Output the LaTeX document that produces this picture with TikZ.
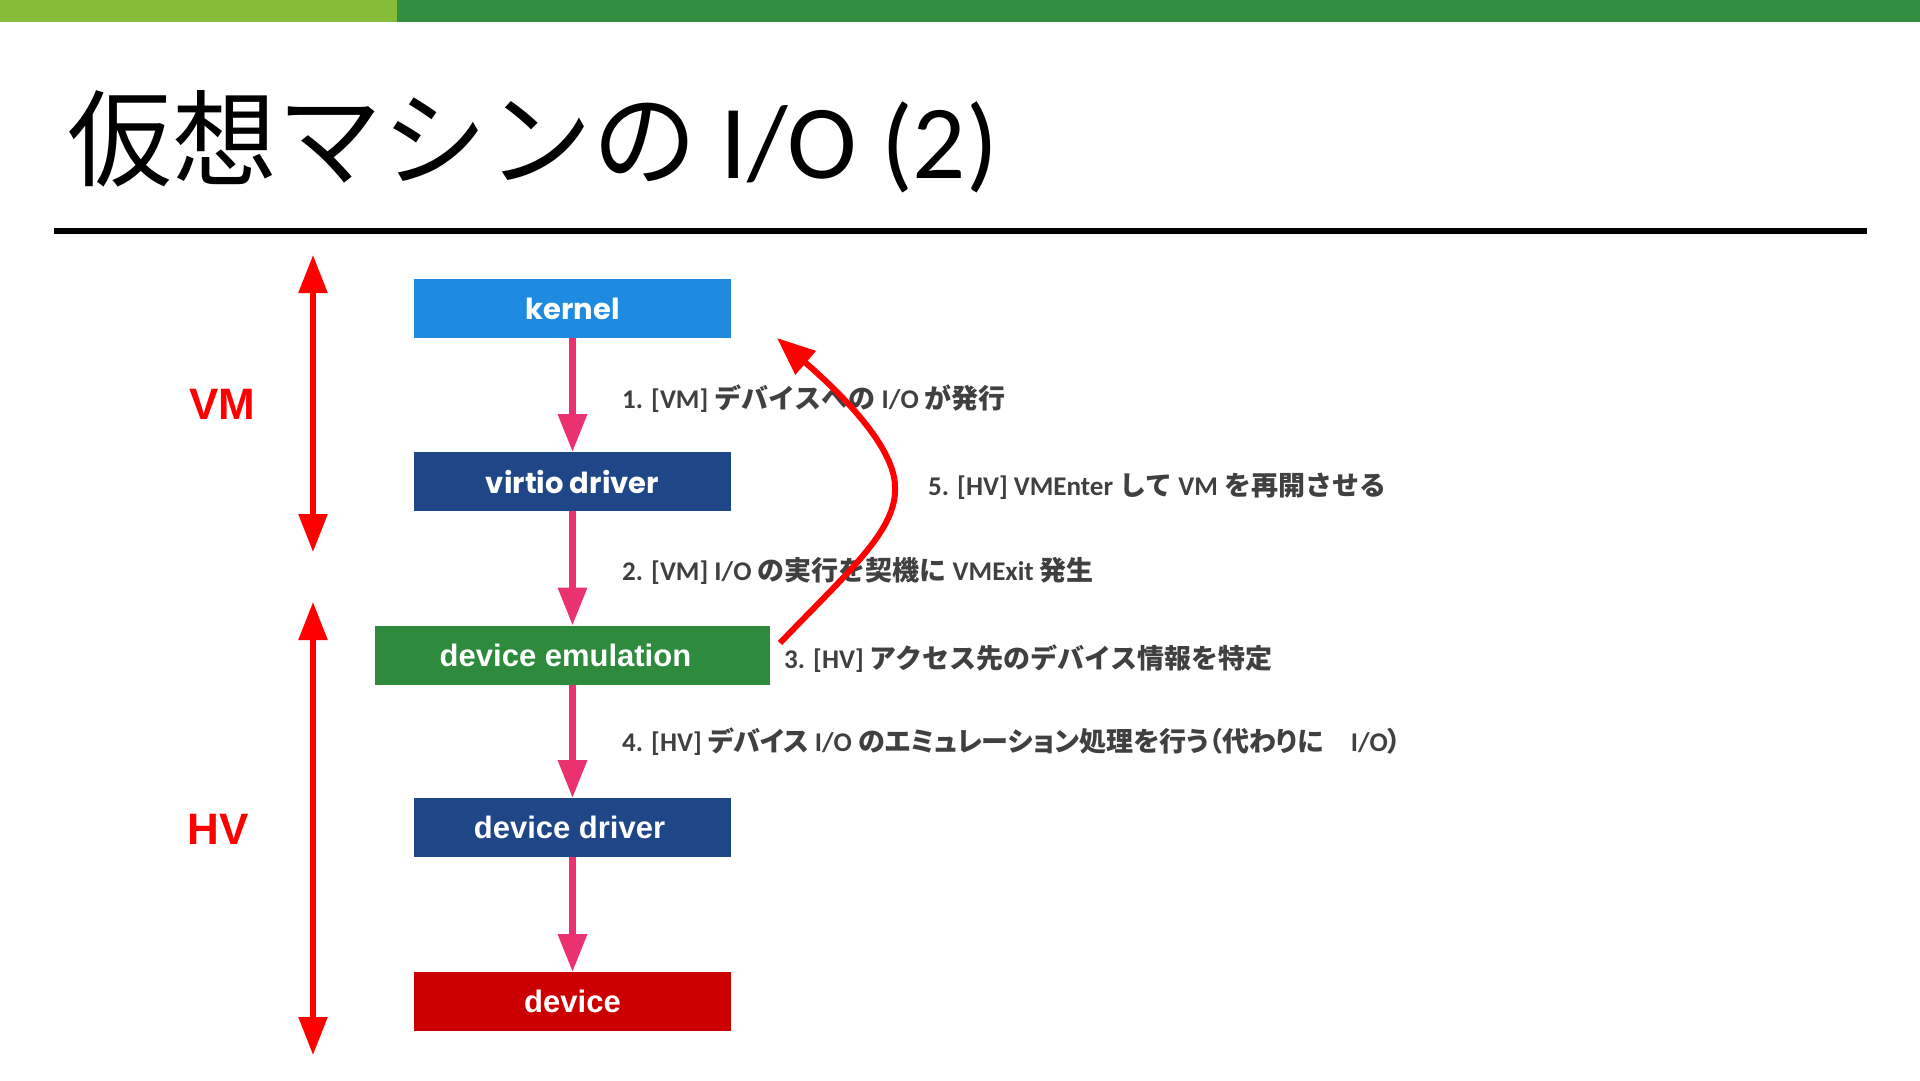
\documentclass[tikz,border=0pt]{standalone}
\usepackage{fontspec}
\usetikzlibrary{arrows.meta}
\newfontfamily\jp{Noto Sans CJK JP}
\newfontfamily\jpp{Noto Sans CJK JP}[RawFeature=+palt]
\newfontfamily\carl{Carlito}
\newfontfamily\lib{Liberation Sans}
\newfontfamily\pop{Poppins}
\definecolor{lgreen}{RGB}{134,188,55}
\definecolor{dgreen}{RGB}{50,142,64}
\definecolor{kblue}{RGB}{30,139,224}
\definecolor{nblue}{RGB}{31,71,136}
\definecolor{egreen}{RGB}{46,139,62}
\definecolor{dred}{RGB}{204,0,0}
\definecolor{pinkc}{RGB}{234,51,110}
\definecolor{redc}{RGB}{255,0,0}
\definecolor{grayc}{RGB}{64,64,64}
\newcommand\Lx[1]{{\carl\bfseries #1}}
\newcommand\Jx[1]{{\jp\bfseries #1}}
\newcommand\Jp[1]{{\jpp\bfseries #1}}
\begin{document}
\begin{tikzpicture}[x=1pt,y=-1pt,
  box/.style={rectangle, minimum width=317pt, minimum height=59pt, inner sep=0pt, outer sep=0pt, text=white},
  popfont/.style={font=\pop\bfseries\fontsize{29}{34}\selectfont},
  arifont/.style={font=\lib\bfseries\fontsize{31}{36}\selectfont},
  flow/.style={draw=pinkc, line width=6.5pt, -{Triangle[length=38pt,width=28pt]}},
  span/.style={draw=redc, line width=5.5pt, {Triangle[length=38pt,width=28pt]}-{Triangle[length=38pt,width=28pt]}},
  lbl/.style={anchor=west, inner sep=0pt, text=grayc, font=\fontsize{27}{31}\selectfont},
  side/.style={text=redc, inner sep=0pt, font=\lib\bfseries\fontsize{44}{50}\selectfont}]
\path[use as bounding box, fill=white] (0,0) rectangle (1920,1081);
% top bar
\fill[lgreen] (0,0) rectangle (397,22);
\fill[dgreen] (397,0) rectangle (1920,22);
% title
\node[anchor=base west, inner sep=0pt, font=\fontsize{105}{120}\selectfont] (title) at (67,178) {{\jp 仮想マシンの}{\carl\ I/O (2)}};
\draw[line width=6pt] (54,231) -- (1867,231);
% boxes
\node[box, fill=kblue, popfont] (kernel) at (572.5,308.5) {kernel};
\node[box, fill=nblue, popfont] (virtio) at (572.5,481.5) {virtio driver};
\node[box, fill=egreen, arifont, minimum width=395pt] (emu) at (572.5,655) {device emulation\hspace*{14pt}};
\node[box, fill=nblue, arifont] (ddrv) at (572.5,827.5) {device driver\hspace*{6pt}};
\node[box, fill=dred, arifont] (dev) at (572.5,1001.5) {device};
% flow arrows
\draw[flow] (kernel.south) -- (virtio.north);
\draw[flow] (virtio.south) -- (emu.north);
\draw[flow] (emu.south) -- (ddrv.north);
\draw[flow] (ddrv.south) -- (dev.north);
% side spans
\coordinate (vmtop) at (313,255);
\coordinate (vmbot) at (313,552);
\coordinate (hvtop) at (313,602);
\coordinate (hvbot) at (313,1055);
\draw[span] (vmtop) -- (vmbot);
\draw[span] (hvtop) -- (hvbot);
\node[side] (vm) at (222,404) {VM};
\node[side] (hv) at (218,829) {HV};
% labels
\node[lbl] (l1) at (622,399) {\Lx{1. [VM] }\Jx{デバイスへの}\Lx{ I/O }\Jx{が発行}};
\node[lbl] (l5) at (928,486) {\Lx{5. [HV] VMEnter }\Jx{して}\Lx{ VM }\Jx{を再開させる}};
\node[lbl] (l2) at (622,571) {\Lx{2. [VM] I/O }\Jx{の実行を契機に}\Lx{ VMExit }\Jx{発生}};
\node[lbl] (l3) at (784,659) {\Lx{3. [HV] }\Jx{アクセス先のデバイス情報を特定}};
\node[lbl] (l4) at (622,742) {\Lx{4. [HV] }\Jp{デバイス}\Lx{ I/O }\Jp{のエミュレーション処理を行う（代わりに　}\Lx{I/O}\Jp{）}};
% return curve
\coordinate (cs) at (780,643);
\coordinate (cm) at (895,487);
\coordinate (ce) at (777,338);
\draw[draw=redc, line width=6pt, -{Triangle[length=38pt,width=30pt]}] (cs) .. controls (850,570) and (897,530) .. (cm) .. controls (895,455) and (860,410) .. (ce);
\end{tikzpicture}
\end{document}
